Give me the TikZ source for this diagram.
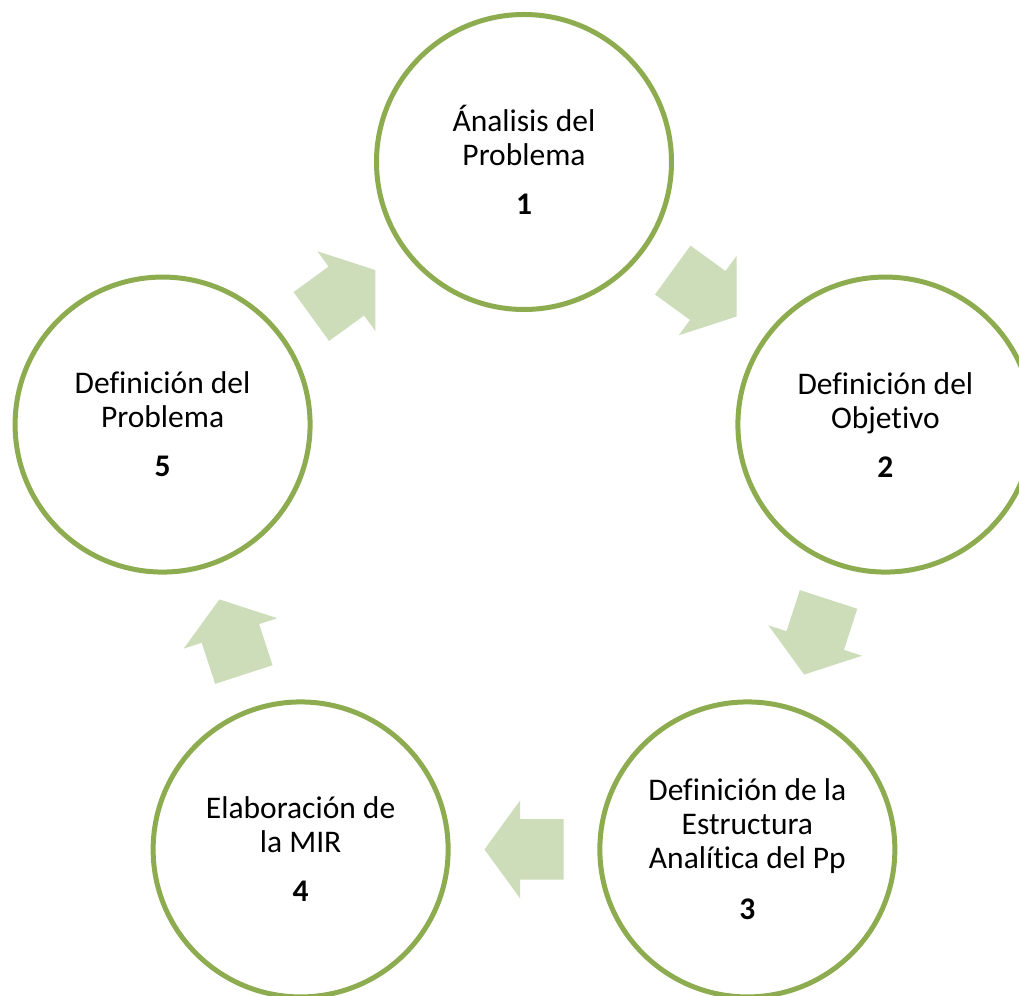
\documentclass[tikz,border=0pt]{standalone}
\usepackage{fontspec}
\setmainfont{Carlito}[Ligatures=CommonOff]
\usetikzlibrary{shapes.arrows,calc}
\definecolor{ringgreen}{RGB}{141,172,80}
\definecolor{arrowgreen}{RGB}{205,220,185}
\tikzset{
  stage/.style={circle, draw=ringgreen, line width=5pt, fill=white,
    minimum size=295pt, inner sep=0pt, align=center,
    font=\fontsize{31.5}{34}\selectfont},
  flow/.style={single arrow, fill=arrowgreen, draw=none,
    minimum height=79pt, inner xsep=0pt, inner ysep=30pt,
    single arrow head extend=19pt, single arrow tip angle=108,
    outer sep=0pt, anchor=tip},
}
\begin{document}
\begin{tikzpicture}[x=1pt,y=1pt]
  \useasboundingbox (-524,-453) rectangle (495,542);
  \clip (-524,-453) rectangle (495,542);
  % the five stages, on a pentagon
  \node[stage] (s1) at (90:380) {\smash{Á}nalisis del\\Problema\\[15pt]\textbf{1}};
  \node[stage] (s2) at (18:380) {Definición del\\Objetivo\\[15pt]\textbf{2}};
  \node[stage] (s3) at (-54:380) {Definición de la\\Estructura\\Analítica del Pp\\[17pt]\textbf{3}};
  \node[stage] (s4) at (-126:380) {Elaboración de\\la MIR\\[15pt]\textbf{4}};
  \node[stage] (s5) at (162:380) {Definición del\\Problema\\[15pt]\textbf{5}};
  % block arrows between them, tip just past the middle
  \foreach \a/\b [count=\i] in {s1/s2,s2/s3,s3/s4,s4/s5,s5/s1}
    \node[flow, rotate={-36-72*(\i-1)}] (f\i) at ($(\a)!0.5!(\b)!39.5pt!(\b)$) {};
\end{tikzpicture}
\end{document}
